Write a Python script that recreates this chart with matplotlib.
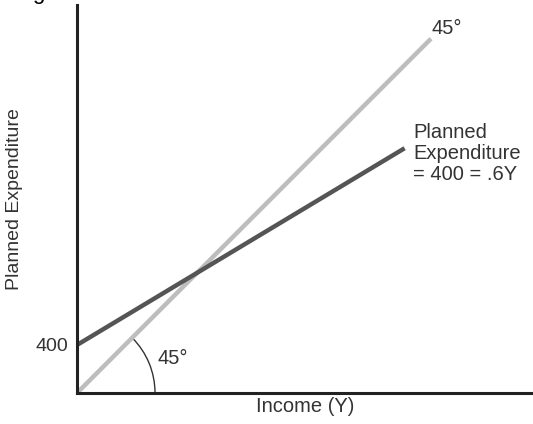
import numpy as np
import matplotlib.pyplot as plt
from matplotlib.patches import Arc

plt.rcParams['font.family'] = ['Liberation Sans', 'DejaVu Sans']

# Keynesian cross: 45 degree line and planned expenditure line
INTERCEPT = 400
MPC = 0.6
X45_END = 2950
XPE_END = 2730
X_MAX = 3800
Y_MAX = 3230

x45 = [0, X45_END]
y45 = [0, X45_END]
xpe = [0, XPE_END]
ype = [INTERCEPT + MPC * v for v in xpe]

fig = plt.figure(figsize=(5.33, 4.24), dpi=100)
ax = fig.add_axes([0.1445, 0.0731, 0.8555, 0.915])

ax.plot(x45, y45, color='#bdbdbd', lw=3.2, solid_capstyle='butt')
ax.plot(xpe, ype, color='#555555', lw=3.2, solid_capstyle='butt')

# angle arc at origin
ax.add_patch(Arc((0, 0), 2 * 650, 2 * 650, theta1=0, theta2=45,
                 color='#333333', lw=1.0))
ax.text(667, 290, '45°', fontsize=14.5, color='#333333', va='center')
ax.text(2958, 2958, '45°', fontsize=14.5, color='#333333', va='bottom')
ax.text(2800, 1740, 'Planned\nExpenditure\n= 400 = .6Y',
        fontsize=14.5, color='#333333', va='bottom', linespacing=1.12)

ax.set_xlim(0, X_MAX)
ax.set_ylim(0, Y_MAX)
ax.set_xticks([])
ax.set_yticks([INTERCEPT])
ax.set_yticklabels(['400'], fontsize=14, color='#333333')
ax.tick_params(axis='y', length=0, pad=6)

for s in ['top', 'right']:
    ax.spines[s].set_visible(False)
for s in ['left', 'bottom']:
    ax.spines[s].set_linewidth(2.2)
    ax.spines[s].set_color('#222222')

ax.set_xlabel('Income (Y)', fontsize=14.5, color='#333333', labelpad=3)
ax.set_ylabel('Planned Expenditure', fontsize=14, color='#333333')
ax.yaxis.set_label_coords(-0.118, 0.5)

# cut-off caption fragment at the top edge, as in the source scan
fig.text(32 / 533, 1 + 1 / 424, 'g', fontsize=16, color='black', va='baseline')

fig.savefig('out.png', dpi=100)
